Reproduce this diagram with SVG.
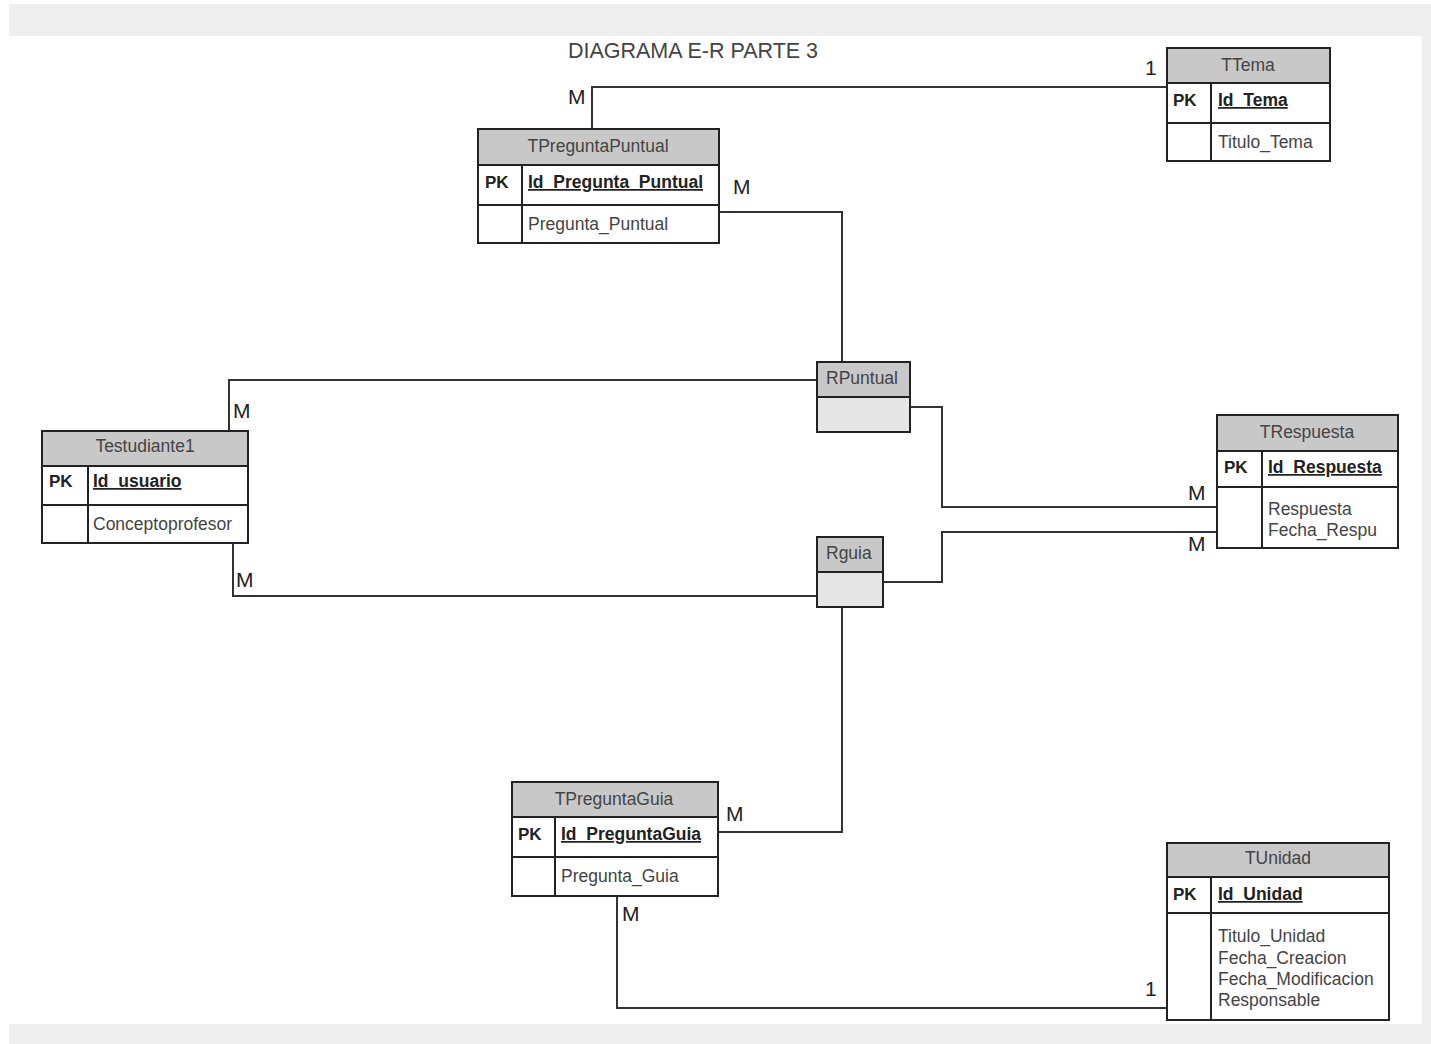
<svg xmlns="http://www.w3.org/2000/svg" width="1431" height="1044" viewBox="0 0 1431 1044">
<style>
text { font-family: "Liberation Sans", Arial, sans-serif; fill: #333; }
.title { font-size: 21.5px; fill: #444; }
.hdr { font-size: 17.5px; text-anchor: middle; fill: #444; }
.pk { font-size: 17px; font-weight: bold; fill: #222; }
.key { font-size: 17.5px; font-weight: bold; text-decoration: underline; fill: #222; }
.attr { font-size: 17.5px; fill: #444; }
.lbl { font-size: 21px; fill: #222; }
.box { fill: #fff; stroke: #222; stroke-width: 2; }
.head { fill: #c8c8c8; stroke: #222; stroke-width: 2; }
.rbody { fill: #e6e6e6; stroke: #222; stroke-width: 2; }
.ln { stroke: #222; stroke-width: 2; fill: none; }
.conn { stroke: #333; stroke-width: 2; fill: none; }
.bg { fill: #efefef; }
</style>

<rect class="bg" x="9" y="4" width="1422" height="32"/>
<rect class="bg" x="1422" y="36" width="9" height="988"/>
<rect class="bg" x="9" y="1024" width="1422" height="20"/>

<text class="title" x="693" y="58" text-anchor="middle">DIAGRAMA E-R PARTE 3</text>

<g id="connectors">
  <polyline class="conn" points="1167,87 592,87 592,129"/>
  <polyline class="conn" points="719,212 842,212 842,362"/>
  <polyline class="conn" points="817,380 229,380 229,431"/>
  <polyline class="conn" points="910,407 942,407 942,507 1217,507"/>
  <polyline class="conn" points="883,582 942,582 942,532 1217,532"/>
  <polyline class="conn" points="233,543 233,596 817,596"/>
  <polyline class="conn" points="842,607 842,832 718,832"/>
  <polyline class="conn" points="617,896 617,1008 1167,1008"/>
  <text class="lbl" x="1145" y="75">1</text>
  <text class="lbl" x="568" y="104">M</text>
  <text class="lbl" x="733" y="194">M</text>
  <text class="lbl" x="233" y="418">M</text>
  <text class="lbl" x="236" y="587">M</text>
  <text class="lbl" x="1188" y="500">M</text>
  <text class="lbl" x="1188" y="551">M</text>
  <text class="lbl" x="726" y="821">M</text>
  <text class="lbl" x="622" y="921">M</text>
  <text class="lbl" x="1145" y="996">1</text>
</g>

<g id="TTema">
  <rect class="box" x="1167" y="48" width="163" height="113"/>
  <rect class="head" x="1167" y="48" width="163" height="35"/>
  <line class="ln" x1="1167" y1="123" x2="1330" y2="123"/>
  <line class="ln" x1="1211" y1="83" x2="1211" y2="161"/>
  <text class="hdr" x="1248" y="71">TTema</text>
  <text class="pk" x="1173" y="106">PK</text>
  <text class="key" x="1218" y="106">Id_Tema</text>
  <text class="attr" x="1218" y="148">Titulo_Tema</text>
</g>

<g id="TPreguntaPuntual">
  <rect class="box" x="478" y="129" width="241" height="114"/>
  <rect class="head" x="478" y="129" width="241" height="36"/>
  <line class="ln" x1="478" y1="205" x2="719" y2="205"/>
  <line class="ln" x1="522" y1="165" x2="522" y2="243"/>
  <text class="hdr" x="598" y="152">TPreguntaPuntual</text>
  <text class="pk" x="485" y="188">PK</text>
  <text class="key" x="528" y="188">Id_Pregunta_Puntual</text>
  <text class="attr" x="528" y="230">Pregunta_Puntual</text>
</g>

<g id="RPuntual">
  <rect class="rbody" x="817" y="362" width="93" height="70"/>
  <rect class="head" x="817" y="362" width="93" height="35"/>
  <text class="attr" x="826" y="384">RPuntual</text>
</g>

<g id="Testudiante1">
  <rect class="box" x="42" y="431" width="206" height="112"/>
  <rect class="head" x="42" y="431" width="206" height="35"/>
  <line class="ln" x1="42" y1="505" x2="248" y2="505"/>
  <line class="ln" x1="88" y1="466" x2="88" y2="543"/>
  <text class="hdr" x="145" y="452">Testudiante1</text>
  <text class="pk" x="49" y="487">PK</text>
  <text class="key" x="93" y="487">Id_usuario</text>
  <text class="attr" x="93" y="530">Conceptoprofesor</text>
</g>

<g id="TRespuesta">
  <rect class="box" x="1217" y="415" width="181" height="133"/>
  <rect class="head" x="1217" y="415" width="181" height="36"/>
  <line class="ln" x1="1217" y1="487" x2="1398" y2="487"/>
  <line class="ln" x1="1262" y1="451" x2="1262" y2="548"/>
  <text class="hdr" x="1307" y="438">TRespuesta</text>
  <text class="pk" x="1224" y="473">PK</text>
  <text class="key" x="1268" y="473">Id_Respuesta</text>
  <text class="attr" x="1268" y="515">Respuesta</text>
  <text class="attr" x="1268" y="536">Fecha_Respu</text>
</g>

<g id="Rguia">
  <rect class="rbody" x="817" y="537" width="66" height="70"/>
  <rect class="head" x="817" y="537" width="66" height="35"/>
  <text class="attr" x="826" y="559">Rguia</text>
</g>

<g id="TPreguntaGuia">
  <rect class="box" x="512" y="782" width="206" height="114"/>
  <rect class="head" x="512" y="782" width="206" height="35"/>
  <line class="ln" x1="512" y1="857" x2="718" y2="857"/>
  <line class="ln" x1="555" y1="817" x2="555" y2="896"/>
  <text class="hdr" x="614" y="805">TPreguntaGuia</text>
  <text class="pk" x="518" y="840">PK</text>
  <text class="key" x="561" y="840">Id_PreguntaGuia</text>
  <text class="attr" x="561" y="882">Pregunta_Guia</text>
</g>

<g id="TUnidad">
  <rect class="box" x="1167" y="843" width="222" height="177"/>
  <rect class="head" x="1167" y="843" width="222" height="34"/>
  <line class="ln" x1="1167" y1="913" x2="1389" y2="913"/>
  <line class="ln" x1="1211" y1="877" x2="1211" y2="1020"/>
  <text class="hdr" x="1278" y="864">TUnidad</text>
  <text class="pk" x="1173" y="900">PK</text>
  <text class="key" x="1218" y="900">Id_Unidad</text>
  <text class="attr" x="1218" y="942">Titulo_Unidad</text>
  <text class="attr" x="1218" y="964">Fecha_Creacion</text>
  <text class="attr" x="1218" y="985">Fecha_Modificacion</text>
  <text class="attr" x="1218" y="1006">Responsable</text>
</g>
</svg>
